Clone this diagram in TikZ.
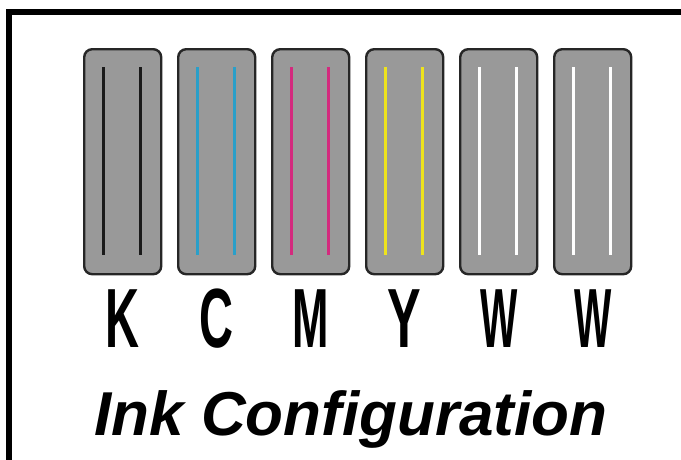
\documentclass[tikz,border=0pt]{standalone}
\usepackage{fontspec}
\setmainfont{Liberation Sans}
\begin{document}
\begin{tikzpicture}[x=1pt,y=-1pt,
  cart/.style={draw=black!85,line width=2.4pt,fill=black!40,rounded corners=8pt},
  inkline/.style={line width=3pt},
  letter/.style={inner sep=0pt,anchor=base,font=\fontsize{84}{84}\selectfont\bfseries},
  title/.style={inner sep=0pt,anchor=base,font=\fontsize{62}{62}\selectfont\bfseries\itshape}]
\useasboundingbox (0,0) rectangle (681,459);
\clip (0,0) rectangle (681,459);
\coordinate (fb) at (9,470);
\coordinate (fc) at (9,12);
\coordinate (fr) at (700,12);
\draw[line width=6pt] (fb) -- (fc) -- (fr);
\definecolor{inkK}{HTML}{1A1A1A}
\definecolor{inkC}{HTML}{2A9FC9}
\definecolor{inkM}{HTML}{D42A7E}
\definecolor{inkY}{HTML}{EEE31C}
\definecolor{inkW}{HTML}{FFFFFF}
\foreach \i/\c/\l/\s in {0/inkK/K/0.56,1/inkC/C/0.56,2/inkM/M/0.52,3/inkY/Y/0.6,4/inkW/W/0.47,5/inkW/W/0.47}{
  \pgfmathsetmacro{\xl}{83+94*\i}
  \node[cart,minimum width=77pt,minimum height=225pt,inner sep=0pt,anchor=north west] (box\i) at (\xl,48) {};
  \coordinate (a\i) at ([xshift=20pt,yshift=-19pt]box\i.north west);
  \coordinate (b\i) at ([xshift=20pt,yshift=20pt]box\i.south west);
  \coordinate (c\i) at ([xshift=57pt,yshift=-19pt]box\i.north west);
  \coordinate (d\i) at ([xshift=57pt,yshift=20pt]box\i.south west);
  \draw[inkline,draw=\c] (a\i) -- (b\i);
  \draw[inkline,draw=\c] (c\i) -- (d\i);
  \node[letter] (lab\i) at ([yshift=-72pt]box\i.south) {\scalebox{\s}[1]{\l}};
}
\node[title] (ttl) at (351,435) {Ink Configuration};
\end{tikzpicture}
\end{document}
